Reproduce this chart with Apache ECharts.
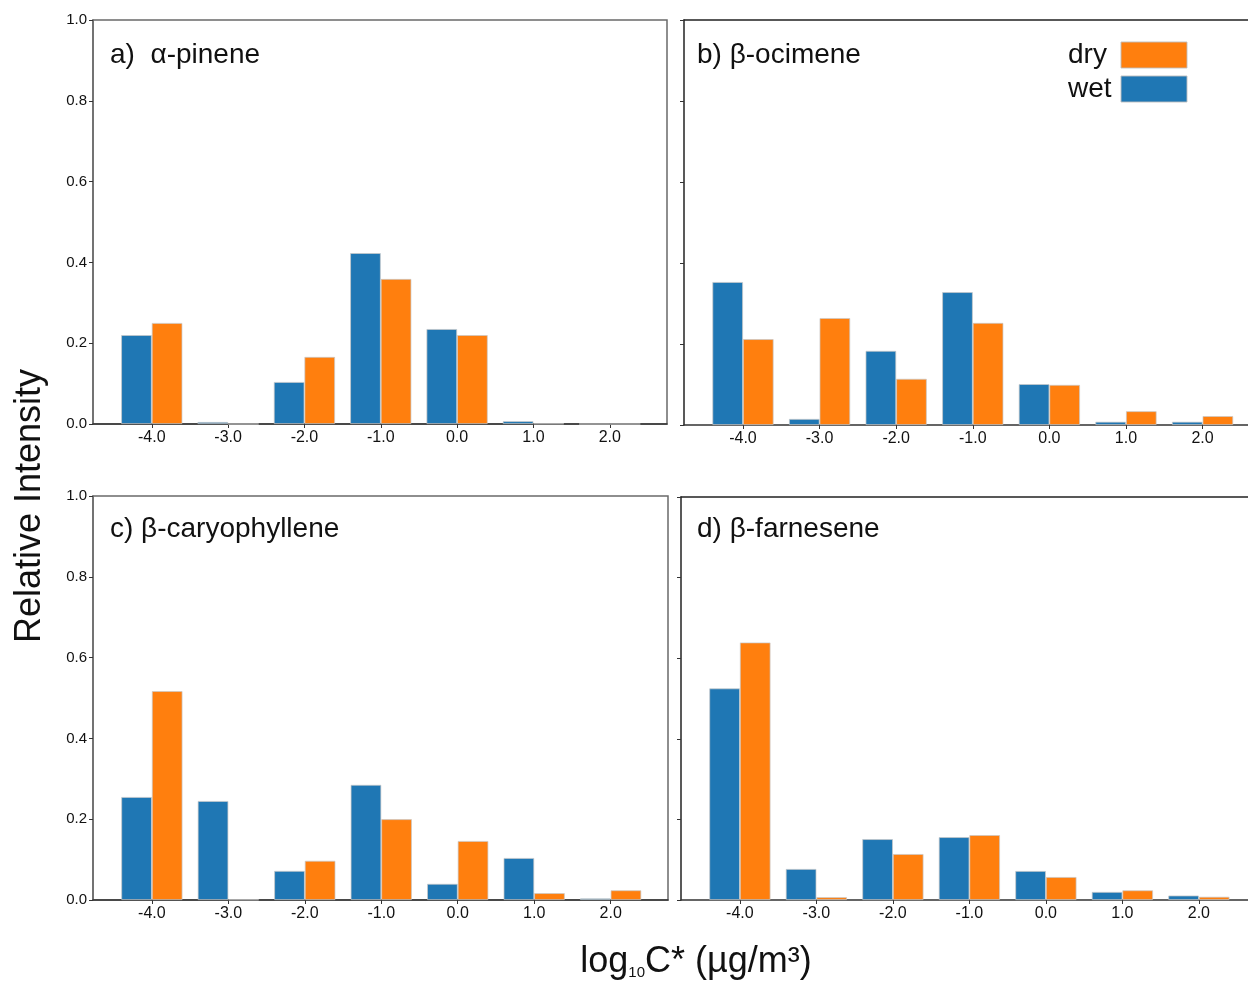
<!DOCTYPE html>
<html>
<head>
<meta charset="utf-8">
<script src="https://cdn.jsdelivr.net/npm/echarts@6/dist/echarts.min.js"></script>
<style>
	html, body { margin: 0; padding: 0; background: #fff; }
	#chart { width: 1248px; height: 982px; }
</style>
</head>
<body>
<div id="chart"></div>
<script>
	// log10C* bins
	var bins = [-4, -3, -2, -1, 0, 1, 2];
	var yTicks = [0, 0.2, 0.4, 0.6, 0.8, 1.0];

	// a) alpha-pinene
	var wetA = [0.220, 0.005, 0.104, 0.423, 0.235, 0.007, 0.000];
	var dryA = [0.250, 0.000, 0.166, 0.359, 0.220, 0.001, 0.000];
	// b) beta-ocimene
	var wetB = [0.353, 0.015, 0.183, 0.328, 0.101, 0.008, 0.008];
	var dryB = [0.212, 0.264, 0.114, 0.252, 0.099, 0.034, 0.022];
	// c) beta-caryophyllene
	var wetC = [0.255, 0.245, 0.072, 0.285, 0.040, 0.104, 0.004];
	var dryC = [0.517, 0.001, 0.097, 0.200, 0.146, 0.017, 0.024];
	// d) beta-farnesene
	var wetD = [0.525, 0.077, 0.151, 0.156, 0.072, 0.020, 0.011];
	var dryD = [0.639, 0.007, 0.114, 0.161, 0.057, 0.024, 0.008];

	var panelTitles = ['a)  α-pinene', 'b) β-ocimene', 'c) β-caryophyllene', 'd) β-farnesene'];

	var WET = '#1f77b4', DRY = '#ff7f0e';
	var FONT = '"Liberation Sans", Arial, sans-serif';

	/** 四个子图的位置（右侧两幅在画面右边被截断） */
	var grids = [
		{ left: 93, top: 20, width: 574, height: 404, show: true, borderColor: '#6a6a6a', borderWidth: 1.5 },
		{ left: 684, top: 20, width: 564, height: 405, show: false },
		{ left: 93, top: 496, width: 575, height: 404, show: true, borderColor: '#6a6a6a', borderWidth: 1.5 },
		{ left: 681, top: 497, width: 567, height: 403, show: false }
	];
	var xMax = [2.75, 2.593, 2.75, 2.642];

	function makeX(idx) {
		return {
			type: 'value', gridIndex: idx,
			min: -4.77, max: xMax[idx],
			axisLine: { show: true, onZero: false, lineStyle: { color: '#333', width: 1.5 } },
			axisTick: { show: true, inside: false, length: 4, customValues: bins, lineStyle: { color: '#333' } },
			axisLabel: {
				customValues: bins, color: '#111', fontSize: 16, fontFamily: FONT, margin: 6,
				formatter: function(v) { return v.toFixed(1); }
			},
			splitLine: { show: false }
		};
	}

	// 右侧子图的上边框
	function makeTopX(idx) {
		return {
			type: 'value', gridIndex: idx, position: 'top',
			min: -4.77, max: xMax[idx],
			axisLine: { show: true, onZero: false, lineStyle: { color: '#222', width: 1.5 } },
			axisTick: { show: false }, axisLabel: { show: false }, splitLine: { show: false }
		};
	}

	function makeY(idx, showLabel) {
		return {
			type: 'value', gridIndex: idx,
			min: 0, max: 1, interval: 0.2,
			axisLine: { show: true, onZero: false, lineStyle: { color: showLabel ? '#6a6a6a' : '#222', width: 1.5 } },
			axisTick: { show: true, inside: false, length: 4, lineStyle: { color: '#333' } },
			axisLabel: {
				show: showLabel, color: '#111', fontSize: 15, fontFamily: FONT, margin: 6,
				formatter: function(v) { return v.toFixed(1); }
			},
			splitLine: { show: false }
		};
	}

	function pairs(vals) {
		return bins.map(function(b, i) { return [b, vals[i]]; });
	}

	var barEdge = { borderColor: 'rgba(200,200,200,0.9)', borderWidth: 0.8 };
	var panelData = [[wetA, dryA], [wetB, dryB], [wetC, dryC], [wetD, dryD]];
	var series = [];
	panelData.forEach(function(p, i) {
		series.push({
			name: 'wet', type: 'bar', xAxisIndex: i, yAxisIndex: i,
			barWidth: 30.6, barGap: '0%',
			itemStyle: Object.assign({ color: WET }, barEdge),
			data: pairs(p[0])
		});
		series.push({
			name: 'dry', type: 'bar', xAxisIndex: i, yAxisIndex: i,
			barWidth: 30.6, barGap: '0%',
			itemStyle: Object.assign({ color: DRY }, barEdge),
			data: pairs(p[1])
		});
	});

	var titlePos = [[110, 55], [697, 55], [110, 529], [697, 529]];
	var graphics = panelTitles.map(function(t, i) {
		return {
			type: 'text', x: titlePos[i][0], y: titlePos[i][1],
			style: { text: t, fill: '#111', font: '28px ' + FONT, textVerticalAlign: 'middle' }
		};
	});
	// 纵轴标题
	graphics.push({
		type: 'text', rotation: Math.PI / 2, x: 30, y: 506,
		style: {
			text: 'Relative Intensity', fill: '#111', font: '36px ' + FONT,
			textAlign: 'center', textVerticalAlign: 'middle'
		}
	});
	// 横轴标题
	graphics.push({
		type: 'text', x: 696, y: 962,
		style: {
			text: '{m|log}{s|10}{m|C* (µg/m³)}',
			textAlign: 'center', textVerticalAlign: 'middle',
			rich: {
				m: { fontSize: 36, fontFamily: FONT, fill: '#111', color: '#111' },
				s: { fontSize: 15, fontFamily: FONT, fill: '#111', color: '#111', verticalAlign: 'bottom', padding: [14, 0, 0, 0] }
			}
		}
	});

	var myChart = echarts.init(document.getElementById('chart'));
	myChart.setOption({
		animation: false,
		backgroundColor: '#fff',
		grid: grids,
		xAxis: [makeX(0), makeX(1), makeX(2), makeX(3), makeTopX(1), makeTopX(3)],
		yAxis: [makeY(0, true), makeY(1, false), makeY(2, true), makeY(3, false)],
		legend: {
			data: ['dry', 'wet'],
			orient: 'vertical', align: 'right',
			left: 1068, top: 41, padding: 0,
			itemWidth: 66, itemHeight: 26, itemGap: 6,
			icon: 'rect',
			itemStyle: { borderColor: 'rgba(190,190,190,0.9)', borderWidth: 1 },
			formatter: '{t|{name}}',
			textStyle: {
				rich: { t: { fontSize: 28, lineHeight: 26, fontFamily: FONT, color: '#111', width: 48, align: 'left' } }
			}
		},
		series: series,
		graphic: graphics
	});
</script>
</body>
</html>
